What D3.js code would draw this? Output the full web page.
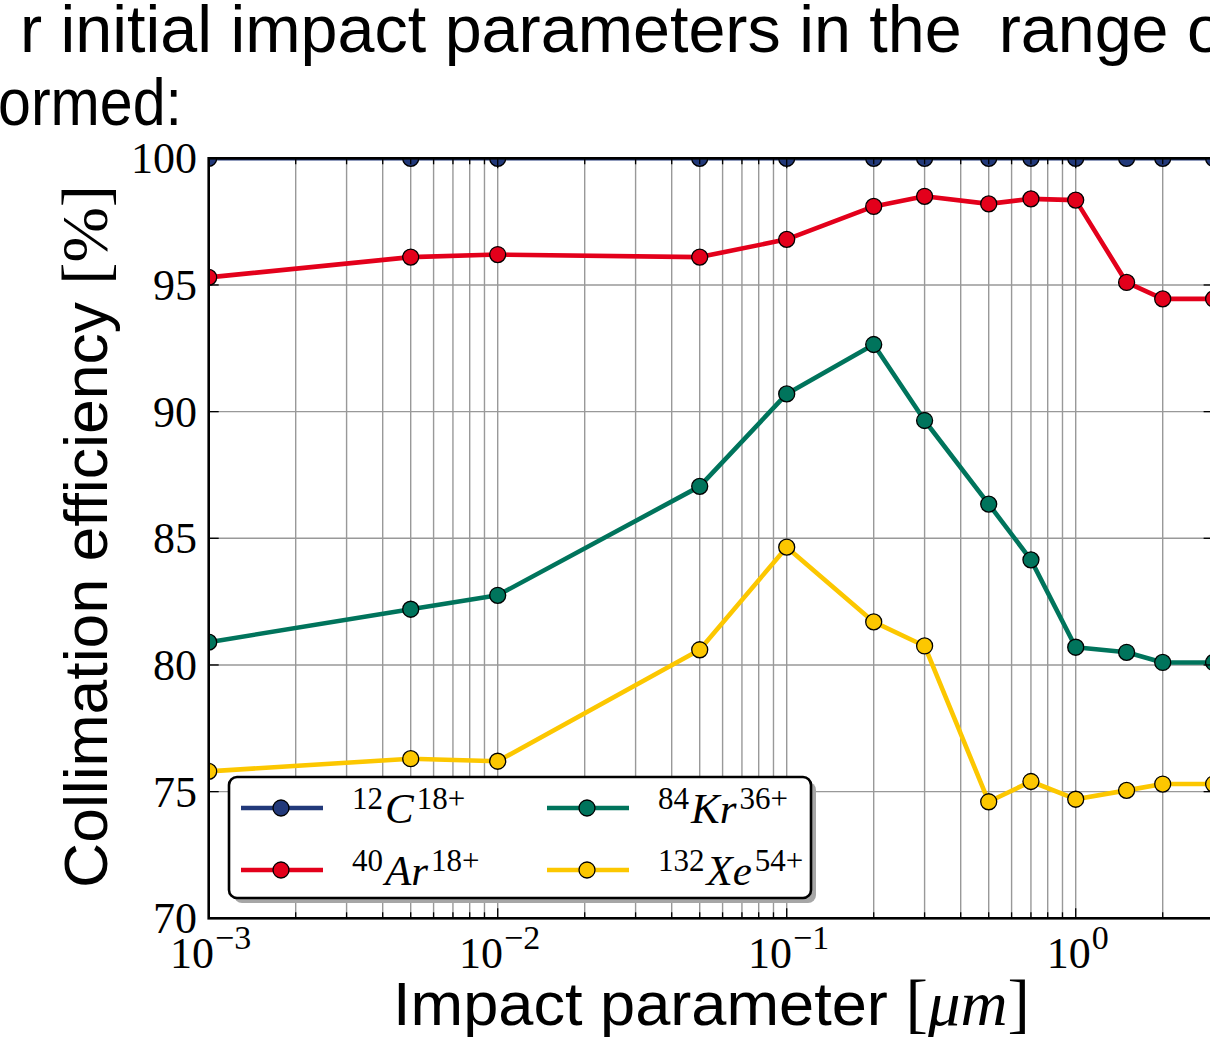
<!DOCTYPE html>
<html>
<head>
<meta charset="utf-8">
<script src="https://cdn.jsdelivr.net/npm/d3@7"></script>
<style>
  body { margin: 0; background: #fff; overflow: hidden; }
  svg { display: block; }
</style>
</head>
<body>
<div id="chart"></div>
<script>
// impact parameters [um] and collimation efficiency [%] per ion
var impact = [0.001, 0.005, 0.01, 0.05, 0.1, 0.2, 0.3, 0.5, 0.7, 1, 1.5, 2, 3];
var carbon = [100, 100, 100, 100, 100, 100, 100, 100, 100, 100, 100, 100, 100];
var argon = [95.3, 96.1, 96.2, 96.1, 96.8, 98.1, 98.5, 98.2, 98.4, 98.35, 95.1, 94.45, 94.45];
var krypton = [80.9, 82.2, 82.75, 87.05, 90.7, 92.65, 89.65, 86.35, 84.15, 80.7, 80.5, 80.1, 80.1];
var xenon = [75.8, 76.3, 76.2, 80.6, 84.65, 81.7, 80.75, 74.6, 75.4, 74.7, 75.05, 75.3, 75.3];

var ionMass = ["12", "40", "84", "132"];
var ionSymbol = ["C", "Ar", "Kr", "Xe"];
var ionCharge = ["18+", "18+", "36+", "54+"];
var ionColor = ["#22397a", "#e3001b", "#00745c", "#fcc700"];

var yTicks = [70, 75, 80, 85, 90, 95, 100];
var xMajor = [1e-3, 1e-2, 1e-1, 1];
var xMajorExp = ["\u22123", "\u22122", "\u22121", "0"];

var series = [carbon, argon, krypton, xenon];

var W = 1210, H = 1037;
var margin = {left: 208.7, top: 158.3, right: 1213.6, bottom: 918.3};

var svg = d3.select("#chart").append("svg")
    .attr("width", W)
    .attr("height", H);

var x = d3.scaleLog().domain([1e-3, 3]).range([margin.left, margin.right]);
var y = d3.scaleLinear().domain([70, 100]).range([margin.bottom, margin.top]);

var serif = "'Liberation Serif', 'Times New Roman', serif";
var sans = "'Liberation Sans', Arial, Helvetica, sans-serif";

// slide text above the chart
svg.append("text")
    .attr("x", 20).attr("y", 52)
    .attr("font-family", sans).attr("font-size", 66)
    .attr("textLength", 1204).attr("lengthAdjust", "spacingAndGlyphs")
    .attr("xml:space", "preserve")
    .text("r initial impact parameters in the \u00a0range o");

svg.append("text")
    .attr("x", -2).attr("y", 125)
    .attr("font-family", sans).attr("font-size", 66)
    .attr("textLength", 184).attr("lengthAdjust", "spacingAndGlyphs")
    .text("ormed:");

// grid
var minor = x.ticks().filter(function(d){ return d >= 1e-3 && d <= 3; });

svg.append("g").attr("class", "vgrid")
    .selectAll("line").data(minor).enter().append("line")
    .attr("x1", function(d){ return x(d); })
    .attr("x2", function(d){ return x(d); })
    .attr("y1", margin.top).attr("y2", margin.bottom)
    .attr("stroke", "#999").attr("stroke-width", 1.4);

svg.append("g").attr("class", "hgrid")
    .selectAll("line").data(yTicks).enter().append("line")
    .attr("x1", margin.left).attr("x2", margin.right)
    .attr("y1", function(d){ return y(d); })
    .attr("y2", function(d){ return y(d); })
    .attr("stroke", "#999").attr("stroke-width", 1.4);

// data, clipped to the axes
svg.append("clipPath").attr("id", "plotclip")
    .append("rect")
    .attr("x", margin.left).attr("y", margin.top)
    .attr("width", margin.right - margin.left)
    .attr("height", margin.bottom - margin.top);

var plot = svg.append("g").attr("clip-path", "url(#plotclip)");

var line = d3.line()
    .x(function(d, i){ return x(impact[i]); })
    .y(function(d){ return y(d); });

series.forEach(function(s, k){
    plot.append("path")
        .datum(s)
        .attr("d", line)
        .attr("fill", "none")
        .attr("stroke", ionColor[k])
        .attr("stroke-width", 4.6)
        .attr("stroke-linejoin", "round");

    plot.selectAll(".pt" + k)
        .data(s).enter().append("circle")
        .attr("class", "pt" + k)
        .attr("cx", function(d, i){ return x(impact[i]); })
        .attr("cy", function(d){ return y(d); })
        .attr("r", 8)
        .attr("fill", ionColor[k])
        .attr("stroke", "#000")
        .attr("stroke-width", 1.3);
});

// ticks (inside, all four sides)
var ticks = svg.append("g").attr("stroke", "#000").attr("stroke-width", 1.3);
minor.forEach(function(d){
    var len = xMajor.indexOf(d) >= 0 ? 10 : 6;
    ticks.append("line").attr("x1", x(d)).attr("x2", x(d))
        .attr("y1", margin.bottom).attr("y2", margin.bottom - len);
    ticks.append("line").attr("x1", x(d)).attr("x2", x(d))
        .attr("y1", margin.top).attr("y2", margin.top + len);
});
yTicks.forEach(function(d){
    ticks.append("line").attr("x1", margin.left).attr("x2", margin.left + 10)
        .attr("y1", y(d)).attr("y2", y(d));
    ticks.append("line").attr("x1", margin.right).attr("x2", margin.right - 10)
        .attr("y1", y(d)).attr("y2", y(d));
});

// spines
svg.append("rect")
    .attr("x", margin.left).attr("y", margin.top)
    .attr("width", margin.right - margin.left)
    .attr("height", margin.bottom - margin.top)
    .attr("fill", "none").attr("stroke", "#000").attr("stroke-width", 2.6);

// tick labels
svg.append("g").selectAll("text").data(yTicks).enter().append("text")
    .attr("x", 197)
    .attr("y", function(d){ return y(d) + 15; })
    .attr("text-anchor", "end")
    .attr("font-family", serif).attr("font-size", 44)
    .text(function(d){ return d; });

var xl = svg.append("g").selectAll("text").data(xMajor).enter().append("text")
    .attr("x", function(d){ return x(d) + 2; })
    .attr("y", 968)
    .attr("text-anchor", "middle")
    .attr("font-family", serif);
xl.append("tspan").attr("font-size", 44).text("10");
xl.append("tspan").attr("font-size", 34).attr("dy", -19).attr("dx", 1)
    .text(function(d, i){ return xMajorExp[i]; });

// axis labels
var yl = svg.append("text")
    .attr("transform", "translate(107,888) rotate(-90)")
    .attr("font-size", 62)
    .attr("textLength", 703).attr("lengthAdjust", "spacingAndGlyphs");
yl.append("tspan").attr("font-family", sans).text("Collimation efficiency ");
yl.append("tspan").attr("font-family", serif).attr("font-size", 66).text("[%]");

var xt = svg.append("text")
    .attr("x", 393).attr("y", 1025)
    .attr("font-size", 62)
    .attr("textLength", 637).attr("lengthAdjust", "spacingAndGlyphs");
xt.append("tspan").attr("font-family", sans).text("Impact parameter ");
xt.append("tspan").attr("font-family", serif).attr("font-size", 66).text("[");
xt.append("tspan").attr("font-family", serif).attr("font-size", 64).attr("font-style", "italic").text("\u03bcm");
xt.append("tspan").attr("font-family", serif).attr("font-size", 66).text("]");

// legend
var leg = {x: 229, y: 777, w: 582, h: 121};
svg.append("rect")
    .attr("x", leg.x + 5).attr("y", leg.y + 5)
    .attr("width", leg.w).attr("height", leg.h)
    .attr("rx", 8).attr("fill", "#a6a6a6");
svg.append("rect")
    .attr("x", leg.x).attr("y", leg.y)
    .attr("width", leg.w).attr("height", leg.h)
    .attr("rx", 8).attr("fill", "#fff")
    .attr("stroke", "#000").attr("stroke-width", 2.6);

var colX = [281, 587], rowY = [808, 870];
ionMass.forEach(function(m, k){
    var cx = colX[Math.floor(k / 2)], cy = rowY[k % 2];
    var g = svg.append("g");
    g.append("line")
        .attr("x1", cx - 40).attr("x2", cx + 42)
        .attr("y1", cy).attr("y2", cy)
        .attr("stroke", ionColor[k]).attr("stroke-width", 4.6);
    g.append("circle")
        .attr("cx", cx).attr("cy", cy).attr("r", 8)
        .attr("fill", ionColor[k]).attr("stroke", "#000").attr("stroke-width", 1.3);
    var t = g.append("text")
        .attr("x", cx + 71).attr("y", cy + 15)
        .attr("font-family", serif);
    t.append("tspan").attr("font-size", 31).attr("dy", -14).text(m);
    t.append("tspan").attr("font-size", 43).attr("font-style", "italic")
        .attr("dy", 14).attr("dx", 2).text(ionSymbol[k]);
    t.append("tspan").attr("font-size", 31).attr("dy", -14).attr("dx", 3).text(ionCharge[k]);
});
</script>
</body>
</html>
